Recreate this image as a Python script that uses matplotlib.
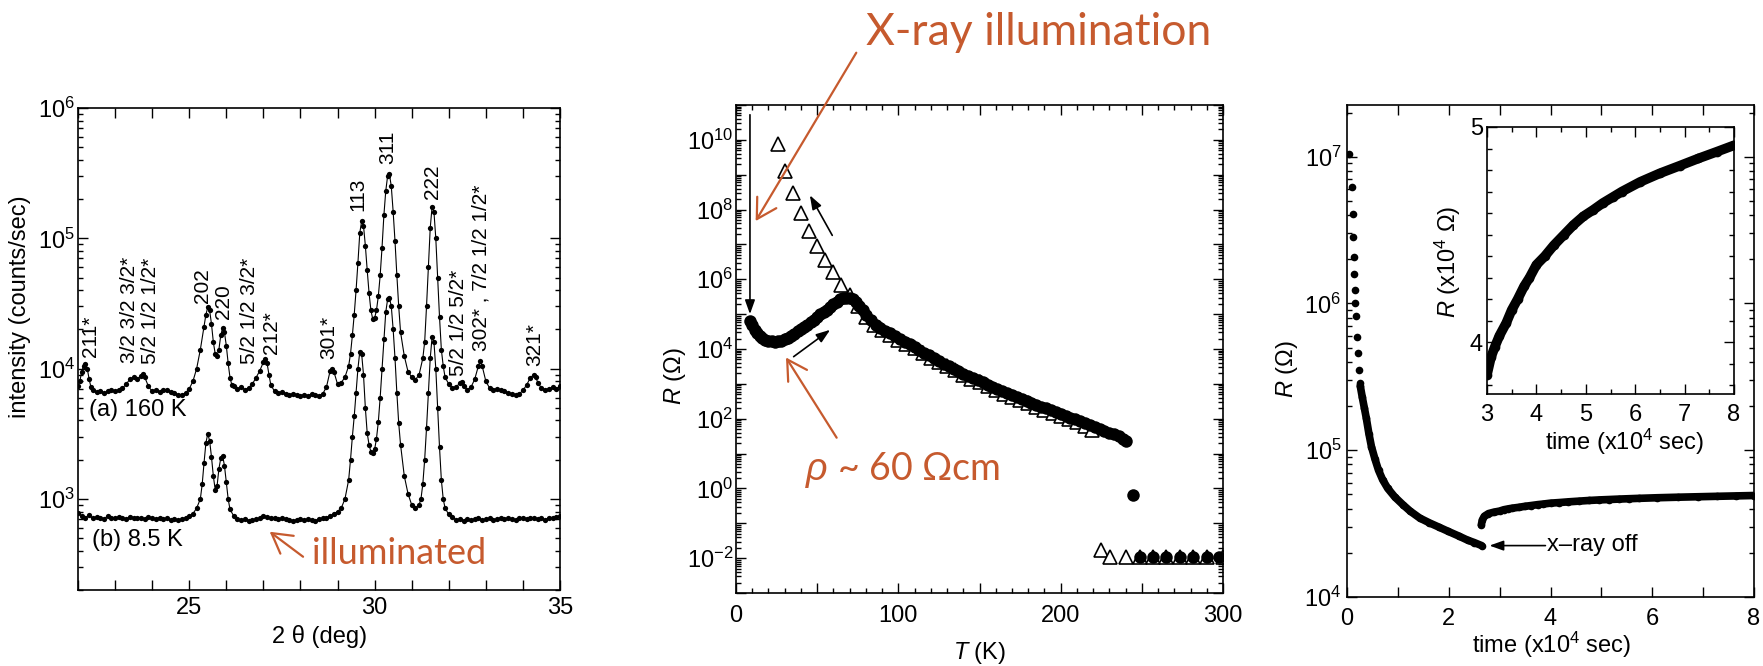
import numpy as np
import matplotlib
matplotlib.use('Agg')
import matplotlib.pyplot as plt
import matplotlib.ticker as mticker

# ---------------- data ----------------
# (a) 160 K and (b) 8.5 K powder patterns
two_theta_a = [22.00, 22.05, 22.10, 22.15, 22.20, 22.25, 22.30, 22.35, 22.40, 22.50, 22.60, 22.70,
               22.80, 22.90, 23.00, 23.10, 23.20, 23.30, 23.40, 23.50, 23.60, 23.70, 23.75, 23.80,
               23.90, 24.00, 24.10, 24.20, 24.30, 24.40, 24.50, 24.60, 24.70, 24.80, 24.90, 25.00,
               25.10, 25.20, 25.30, 25.40, 25.45, 25.50, 25.55, 25.60, 25.65, 25.70, 25.75, 25.80,
               25.85, 25.90, 25.95, 26.00, 26.05, 26.10, 26.15, 26.20, 26.30, 26.40, 26.50, 26.60,
               26.70, 26.80, 26.90, 27.00, 27.05, 27.10, 27.15, 27.20, 27.30, 27.40, 27.50, 27.60,
               27.70, 27.80, 27.90, 28.00, 28.10, 28.20, 28.30, 28.40, 28.50, 28.60, 28.70, 28.80,
               28.85, 28.90, 29.00, 29.10, 29.20, 29.30, 29.35, 29.40, 29.45, 29.50, 29.55, 29.60,
               29.65, 29.70, 29.75, 29.80, 29.85, 29.90, 29.95, 30.00, 30.05, 30.10, 30.15, 30.20,
               30.25, 30.30, 30.35, 30.40, 30.45, 30.50, 30.55, 30.60, 30.65, 30.70, 30.80, 30.90,
               31.00, 31.10, 31.20, 31.30, 31.35, 31.40, 31.45, 31.50, 31.55, 31.60, 31.65, 31.70,
               31.75, 31.80, 31.85, 31.90, 32.00, 32.10, 32.20, 32.30, 32.35, 32.40, 32.50, 32.60,
               32.70, 32.80, 32.85, 32.90, 33.00, 33.10, 33.20, 33.30, 33.40, 33.50, 33.60, 33.70,
               33.80, 33.90, 34.00, 34.10, 34.20, 34.30, 34.35, 34.40, 34.50, 34.60, 34.70, 34.80,
               34.90, 35.00]
intensity_a = [7.4e3, 8.0e3, 9.5e3, 1.05e4, 1.09e4, 1.0e4, 8.3e3, 7.2e3, 6.8e3, 6.6e3, 6.7e3, 6.5e3,
               6.7e3, 6.8e3, 6.7e3, 6.9e3, 7.1e3, 7.6e3, 8.3e3, 8.6e3, 8.3e3, 8.8e3, 9.1e3, 8.6e3,
               7.3e3, 6.7e3, 6.8e3, 6.6e3, 6.9e3, 6.8e3, 6.6e3, 6.5e3, 6.3e3, 6.3e3, 6.5e3, 7.0e3,
               8.0e3, 1.0e4, 1.4e4, 2.1e4, 2.6e4, 2.95e4, 2.8e4, 2.2e4, 1.6e4, 1.3e4, 1.25e4, 1.4e4,
               1.8e4, 2.05e4, 1.9e4, 1.5e4, 1.1e4, 8.5e3, 7.5e3, 7.3e3, 7.0e3, 7.2e3, 6.9e3, 7.1e3,
               7.6e3, 8.5e3, 9.6e3, 1.12e4, 1.18e4, 1.1e4, 9.0e3, 7.5e3, 6.7e3, 6.5e3, 6.6e3, 6.4e3,
               6.3e3, 6.4e3, 6.3e3, 6.2e3, 6.3e3, 6.2e3, 6.4e3, 6.3e3, 6.2e3, 6.4e3, 7.2e3, 9.6e3,
               1.0e4, 9.5e3, 7.6e3, 7.8e3, 8.6e3, 1.05e4, 1.3e4, 1.8e4, 2.6e4, 4.0e4, 6.5e4, 1.1e5,
               1.35e5, 1.25e5, 8.8e4, 5.7e4, 3.8e4, 2.8e4, 2.4e4, 2.45e4, 2.8e4, 3.6e4, 5.2e4, 8.5e4,
               1.5e5, 2.3e5, 3.0e5, 3.1e5, 2.5e5, 1.6e5, 9.5e4, 5.2e4, 3.0e4, 1.9e4, 1.25e4, 9.5e3,
               8.6e3, 8.2e3, 9.0e3, 1.2e4, 1.6e4, 3.0e4, 6.0e4, 1.2e5, 1.75e5, 1.6e5, 1.0e5, 5.0e4,
               2.5e4, 1.4e4, 1.05e4, 8.6e3, 7.6e3, 7.1e3, 7.2e3, 7.8e3, 7.9e3, 7.4e3, 6.9e3, 7.2e3,
               8.3e3, 1.05e4, 1.15e4, 1.05e4, 8.0e3, 7.1e3, 6.9e3, 7.0e3, 6.8e3, 6.7e3, 6.5e3, 6.4e3,
               6.3e3, 6.4e3, 6.8e3, 7.5e3, 8.5e3, 9.0e3, 8.6e3, 7.8e3, 7.1e3, 6.9e3, 7.0e3, 7.2e3,
               7.0e3, 7.3e3]

two_theta_b = [22.0, 22.1, 22.2, 22.3, 22.4, 22.5, 22.6, 22.7, 22.8, 22.9, 23.0, 23.1, 23.2, 23.3,
               23.4, 23.5, 23.6, 23.7, 23.8, 23.9, 24.0, 24.1, 24.2, 24.3, 24.4, 24.5, 24.6, 24.7,
               24.8, 24.9, 25.0, 25.1, 25.2, 25.3, 25.35, 25.4, 25.45, 25.5, 25.55, 25.6, 25.65, 25.7,
               25.75, 25.8, 25.85, 25.9, 25.95, 26.0, 26.05, 26.1, 26.2, 26.3, 26.4, 26.5, 26.6, 26.7,
               26.8, 26.9, 27.0, 27.1, 27.2, 27.3, 27.4, 27.5, 27.6, 27.7, 27.8, 27.9, 28.0, 28.1,
               28.2, 28.3, 28.4, 28.5, 28.6, 28.7, 28.8, 28.9, 29.0, 29.1, 29.2, 29.3, 29.35, 29.4,
               29.45, 29.5, 29.55, 29.6, 29.65, 29.7, 29.75, 29.8, 29.85, 29.9, 29.95, 30.0, 30.05,
               30.1, 30.15, 30.2, 30.25, 30.3, 30.35, 30.4, 30.45, 30.5, 30.55, 30.6, 30.65, 30.7,
               30.8, 30.9, 31.0, 31.1, 31.2, 31.25, 31.3, 31.35, 31.4, 31.45, 31.5, 31.55, 31.6,
               31.65, 31.7, 31.75, 31.8, 31.85, 31.9, 32.0, 32.1, 32.2, 32.3, 32.4, 32.5, 32.6, 32.7,
               32.8, 32.9, 33.0, 33.1, 33.2, 33.3, 33.4, 33.5, 33.6, 33.7, 33.8, 33.9, 34.0, 34.1,
               34.2, 34.3, 34.4, 34.5, 34.6, 34.7, 34.8, 34.9, 35.0]
intensity_b = [780, 740, 720, 750, 710, 730, 720, 700, 740, 720, 710, 730, 720, 700,
               730, 720, 710, 720, 700, 730, 710, 700, 720, 700, 710, 690, 700, 690,
               700, 720, 740, 770, 850, 1000, 1300, 1900, 2700, 3150, 2800, 2100, 1500, 1180,
               1250, 1700, 2050, 2150, 1800, 1350, 1000, 830, 740, 700, 690, 700, 680, 690,
               700, 710, 740, 730, 710, 720, 700, 710, 700, 690, 680, 690, 700, 690,
               700, 690, 680, 700, 710, 720, 740, 770, 800, 850, 1000, 1400, 2000, 3000,
               4300, 6500, 1.0e4, 1.35e4, 1.3e4, 9.0e3, 5.0e3, 3.2e3, 2.6e3, 2.3e3, 2.25e3, 2.4e3, 2.9e3,
               3.9e3, 6.0e3, 1.0e4, 1.7e4, 2.7e4, 3.4e4, 3.5e4, 3.0e4, 2.0e4, 1.2e4, 6.5e3, 3.8e3, 2.6e3,
               1.5e3, 1.1e3, 900, 850, 900, 1000, 1300, 2000, 3500, 6500, 1.2e4, 1.75e4, 1.6e4,
               1.0e4, 5000, 2500, 1400, 1000, 850, 760, 730, 690, 700, 680, 700, 690, 700,
               710, 690, 700, 710, 690, 700, 720, 700, 710, 700, 690, 710, 720, 700,
               710, 720, 700, 710, 690, 720, 710, 730, 740]

peak_labels = ['211*', '3/2 3/2 3/2*', '5/2 1/2 1/2*', '202', '220', '5/2 1/2 3/2*', '212*', '301*',
               '113', '311', '222', '5/2 1/2 5/2*', '302* , 7/2 1/2 1/2*', '321*']
peak_label_x = [22.33, 23.38, 23.96, 25.37, 25.92, 26.62, 27.22, 28.77,
                29.56, 30.36, 31.56, 32.26, 32.86, 34.31]
peak_label_y = [1.22e4, 1.11e4, 1.08e4, 3.2e4, 2.4e4, 1.08e4, 1.29e4, 1.18e4,
                1.63e5, 3.7e5, 2.0e5, 8.8e3, 1.37e4, 1.05e4]

# R(T): filled circles (after illumination) and open triangles
T_circ = [8.9, 10, 11.5, 13, 14.5, 16, 18, 20, 22, 24, 26, 28, 30, 32, 34, 36, 38, 40, 42, 44, 46,
          48, 50, 52, 54, 56, 58, 60, 62, 64, 66, 68, 70, 72, 74, 76, 78, 80, 83, 86, 89, 92, 95,
          98, 101, 104, 107, 110, 113, 116, 119, 122, 125, 128, 131, 134, 137, 140, 143, 146, 149,
          152, 155, 158, 161, 164, 167, 170, 173, 176, 179, 182, 185, 188, 191, 194, 197, 200, 203,
          206, 209, 212, 215, 218, 221, 224, 227, 230, 233, 236, 238.5, 240.5,
          244.4, 249, 257, 265, 273.5, 281.5, 290, 297.5]
R_circ = [6.2e4, 4.8e4, 3.6e4, 2.9e4, 2.4e4, 2.1e4, 1.85e4, 1.72e4, 1.65e4, 1.63e4, 1.65e4, 1.75e4,
          1.9e4, 2.1e4, 2.4e4, 2.75e4, 3.2e4, 3.7e4, 4.3e4, 5.0e4, 5.9e4, 7.0e4, 8.3e4, 9.8e4,
          1.15e5, 1.35e5, 1.6e5, 1.9e5, 2.3e5, 2.7e5, 2.9e5, 3.0e5, 2.9e5, 2.65e5, 2.2e5, 1.7e5,
          1.3e5, 9.6e4, 7.0e4, 5.0e4, 3.9e4, 3.3e4, 2.8e4, 2.3e4, 1.9e4, 1.6e4, 1.35e4, 1.13e4,
          9.4e3, 7.8e3, 6.6e3, 5.5e3, 4.6e3, 3.8e3, 3.2e3, 2.7e3, 2.3e3, 1.95e3, 1.7e3, 1.45e3,
          1.25e3, 1.1e3, 9.5e2, 8.2e2, 7.1e2, 6.2e2, 5.4e2, 4.7e2, 4.1e2, 3.6e2, 3.2e2, 2.85e2,
          2.5e2, 2.2e2, 2.0e2, 1.75e2, 1.55e2, 1.38e2, 1.22e2, 1.08e2, 9.5e1, 8.5e1, 7.5e1, 6.6e1,
          5.8e1, 5.1e1, 4.5e1, 4.0e1, 3.6e1, 3.1e1, 2.7e1, 2.3e1,
          0.65, 1.05e-2, 1.05e-2, 1.05e-2, 1.05e-2, 1.05e-2, 1.05e-2, 1.05e-2]

T_tri = [25.6, 29.9, 35.2, 40.3, 44.9, 50.0, 54.8, 59.9, 64.9, 70.0, 75, 80, 85, 90, 95, 100, 105,
         110, 115, 120, 125, 130, 135, 140, 145, 150, 155, 160, 165, 170, 175, 180, 185, 190, 195,
         200, 205, 210, 215, 219, 224.6, 230.5, 240, 249, 257, 265, 273.5, 281.5, 290, 300]
R_tri = [7.6e9, 1.3e9, 3.0e8, 8.0e7, 2.5e7, 9.0e6, 3.6e6, 1.57e6, 6.9e5, 3.6e5, 1.75e5, 8.5e4,
         5.0e4, 3.4e4, 2.5e4, 1.85e4, 1.4e4, 1.05e4, 7.7e3, 5.7e3, 4.3e3, 3.3e3, 2.5e3, 1.85e3,
         1.4e3, 1.1e3, 8.5e2, 6.6e2, 5.2e2, 4.2e2, 3.4e2, 2.75e2, 2.2e2, 1.8e2, 1.45e2, 1.2e2,
         9.8e1, 8.0e1, 6.2e1, 4.8e1, 1.75e-2, 1.05e-2, 1.05e-2, 1.05e-2, 1.05e-2, 1.05e-2,
         1.05e-2, 1.05e-2, 1.05e-2, 1.1e-2]

# R(t): first separate points, dense decay under x-ray, recovery after x-ray off
t_first = [0.045, 0.098, 0.113, 0.121, 0.136, 0.144, 0.151, 0.159, 0.174, 0.197, 0.219, 0.234, 0.25]
R_first = [1.05e7, 6.2e6, 4.1e6, 2.85e6, 2.06e6, 1.6e6, 1.23e6, 1.01e6, 8.2e5, 5.9e5, 4.57e5,
           3.5e5, 2.86e5]
t_decay = [0.26, 0.30, 0.34, 0.38, 0.43, 0.48, 0.55, 0.62, 0.70, 0.80, 0.94, 1.10, 1.24, 1.43,
           1.62, 1.80, 1.99, 2.20, 2.37, 2.50, 2.646]
R_decay = [2.75e5, 2.3e5, 1.95e5, 1.65e5, 1.3e5, 1.06e5, 8.7e4, 7.3e4, 6.3e4, 5.5e4, 4.8e4,
           4.25e4, 3.85e4, 3.45e4, 3.2e4, 3.0e4, 2.8e4, 2.6e4, 2.44e4, 2.35e4, 2.24e4]
t_rec = [2.64, 2.66, 2.70, 2.78, 2.88, 3.0, 3.08, 3.16, 3.25, 3.39, 3.5, 3.62, 3.75, 3.86, 4.0,
         4.17, 4.35, 4.56, 4.75, 4.95, 5.15, 5.34, 5.55, 5.73, 6.1, 6.5, 6.9, 7.28, 7.65, 8.0]
R_rec = [3.1e4, 3.35e4, 3.55e4, 3.7e4, 3.78e4, 3.85e4, 3.93e4, 3.98e4, 4.03e4, 4.09e4, 4.15e4,
         4.20e4, 4.26e4, 4.30e4, 4.36e4, 4.40e4, 4.45e4, 4.50e4, 4.545e4, 4.585e4, 4.615e4,
         4.646e4, 4.675e4, 4.70e4, 4.745e4, 4.785e4, 4.82e4, 4.854e4, 4.885e4, 4.915e4]

# ---------------- style ----------------
W, H = 1763, 666
OR = '#C65A2E'
plt.rcParams['font.family'] = ['Liberation Sans', 'DejaVu Sans']
plt.rcParams['mathtext.fontset'] = 'custom'
plt.rcParams['mathtext.rm'] = 'Liberation Sans'
plt.rcParams['mathtext.it'] = 'Liberation Sans:italic'
plt.rcParams['axes.linewidth'] = 1.2
FS = 17
CAL = ['Lato', 'DejaVu Sans']

fig = plt.figure(figsize=(W / 100, H / 100), dpi=100)
fig.patch.set_facecolor('white')


def box(x0, y0, x1, y1):
    return [x0 / W, 1 - y1 / H, (x1 - x0) / W, (y1 - y0) / H]


def ftext(x, y, s, **kw):
    fig.text(x / W, 1 - y / H, s, **kw)


def style(ax, padx, pady):
    ax.tick_params(which='both', direction='in', top=True, right=True, labelsize=FS, width=1.0)
    ax.tick_params(which='major', length=7)
    ax.tick_params(which='minor', length=3.5)
    ax.tick_params(axis='x', pad=padx)
    ax.tick_params(axis='y', pad=pady)


def logfmt(even_only=False):
    def f(v, p):
        k = int(round(np.log10(v)))
        if even_only and k % 2:
            return ''
        return '$\\mathregular{10^{%d}}$' % k
    return mticker.FuncFormatter(f)


def logticks(ax, even_only=False):
    ax.yaxis.set_major_locator(mticker.LogLocator(base=10, numticks=100))
    ax.yaxis.set_minor_locator(mticker.LogLocator(base=10, subs=np.arange(2, 10), numticks=100))
    ax.yaxis.set_major_formatter(logfmt(even_only))
    ax.yaxis.set_minor_formatter(mticker.NullFormatter())


# ---------------- (1) XRD ----------------
ax1 = fig.add_axes(box(78, 108, 560, 590))
ax1.plot(two_theta_a, intensity_a, '-o', color='k', lw=0.8, ms=3.8, mew=0)
ax1.plot(two_theta_b, intensity_b, '-o', color='k', lw=0.8, ms=3.8, mew=0)
ax1.set_yscale('log')
ax1.set_xlim(22, 35)
ax1.set_ylim(200, 1e6)
ax1.set_xticks(range(22, 36))
ax1.set_xticklabels([str(v) if v % 5 == 0 else '' for v in range(22, 36)])
logticks(ax1)
style(ax1, 5, 2)
for s, x, y in zip(peak_labels, peak_label_x, peak_label_y):
    ax1.text(x, y, s, rotation=90, ha='center', va='bottom', fontsize=15)
ax1.annotate('', xy=(27.17, 560), xytext=(28.07, 360),
             arrowprops=dict(arrowstyle='->,head_length=0.7,head_width=0.4', color=OR, lw=1.6,
                             mutation_scale=20, shrinkA=0, shrinkB=0))
ftext(89, 410, '(a) 160 K', fontsize=FS, va='center', ha='left')
ftext(92, 540, '(b) 8.5 K', fontsize=FS, va='center', ha='left')
ftext(312, 564, 'illuminated', fontsize=26, color=OR, family=CAL, va='baseline', ha='left')
ftext(20, 307, 'intensity (counts/sec)', fontsize=FS, rotation=90, ha='center', va='center')
ftext(320, 636, '2 θ (deg)', fontsize=FS, ha='center', va='center')

# ---------------- (2) R(T) ----------------
ax2 = fig.add_axes(box(736, 105, 1223, 593))
ax2.plot(T_tri, R_tri, '^', ms=9.5, mfc='white', mec='k', mew=1.2, ls='none', zorder=2)
ax2.plot(T_circ, R_circ, 'o', ms=9, color='k', mew=0, ls='none', zorder=3)
ax2.set_yscale('log')
ax2.set_xlim(0, 300)
ax2.set_ylim(1e-3, 1e11)
ax2.set_xticks(range(0, 301, 50))
ax2.set_xticklabels(['0', '', '100', '', '200', '', '300'])
ax2.xaxis.set_minor_locator(mticker.MultipleLocator(10))
logticks(ax2, even_only=True)
style(ax2, 9, 2)
blk = dict(arrowstyle='-|>,head_length=0.7,head_width=0.25', color='k', lw=1.2,
           mutation_scale=12, shrinkA=0, shrinkB=0)
orng = dict(arrowstyle='->,head_length=0.7,head_width=0.4', color=OR, lw=1.6,
            mutation_scale=20, shrinkA=0, shrinkB=0)
ax2.annotate('', xy=(8.6, 1.0e5), xytext=(8.6, 10 ** 10.72), arrowprops=blk)
ax2.annotate('', xy=(45.5, 10 ** 8.41), xytext=(59.3, 10 ** 7.26), arrowprops=blk)
ax2.annotate('', xy=(58, 10 ** 4.55), xytext=(35.5, 10 ** 3.78), arrowprops=blk)
ax2.annotate('', xy=(12.1, 10 ** 7.67), xytext=(74.1, 10 ** 12.5), arrowprops=orng,
             annotation_clip=False)
ax2.annotate('', xy=(30.8, 10 ** 3.756), xytext=(62, 10 ** 1.455), arrowprops=orng)
ftext(866, 45, 'X-ray illumination', fontsize=32, color=OR, family=CAL, va='baseline', ha='left')
ftext(805, 480, '$\\rho$ ~ 60 Ωcm', fontsize=27, color=OR, family=CAL, va='baseline', ha='left')
ftext(675, 376, '$\\mathit{R}$ (Ω)', fontsize=FS, rotation=90, ha='center', va='center')
ftext(980, 653, '$\\mathit{T}$ (K)', fontsize=FS, ha='center', va='center')

# ---------------- (3) R(t) ----------------
ax3 = fig.add_axes(box(1347, 105, 1754, 597))
ax3.plot(t_first, R_first, 'o', color='k', ms=5.5, mew=0)
ax3.plot(t_decay, R_decay, '-o', color='k', lw=5.5, ms=5.5, mew=0, solid_capstyle='round')
ax3.plot(t_rec, R_rec, '-o', color='k', lw=5.5, ms=5.5, mew=0, solid_capstyle='round')
ax3.set_yscale('log')
ax3.set_xlim(0, 8)
ax3.set_ylim(1e4, 2.25e7)
ax3.set_xticks(range(0, 9))
ax3.set_xticklabels([str(v) if v % 2 == 0 else '' for v in range(0, 9)])
logticks(ax3)
style(ax3, 8, 4)
ax3.annotate('', xy=(2.80, 2.24e4), xytext=(3.90, 2.24e4), arrowprops=blk)
ftext(1547, 545, 'x–ray off', fontsize=FS, ha='left', va='center')
ftext(1287, 369, '$\\mathit{R}$ (Ω)', fontsize=FS, rotation=90, ha='center', va='center')
ftext(1552, 645, 'time (x10$^{4}$ sec)', fontsize=FS, ha='center', va='center')

# inset: same recovery branch on a linear scale
axi = fig.add_axes(box(1487, 127, 1734, 394))
t_in = [t for t in t_rec if t >= 3]
R_in = [r / 1e4 for t, r in zip(t_rec, R_rec) if t >= 3]
axi.plot(t_in, R_in, '-o', color='k', lw=7, ms=7, mew=0, solid_capstyle='round')
axi.set_xlim(3, 8)
axi.set_ylim(3.76, 5.0)
axi.set_xticks(range(3, 9))
axi.xaxis.set_minor_locator(mticker.MultipleLocator(0.5))
axi.set_yticks([4, 5])
axi.yaxis.set_minor_locator(mticker.MultipleLocator(0.1))
style(axi, 7, 3)
ftext(1448, 262, '$\\mathit{R}$ (x10$^{4}$ Ω)', fontsize=FS, rotation=90, ha='center', va='center')
ftext(1625, 442, 'time (x10$^{4}$ sec)', fontsize=FS, ha='center', va='center')

fig.savefig('out.png', dpi=100, facecolor='white')
